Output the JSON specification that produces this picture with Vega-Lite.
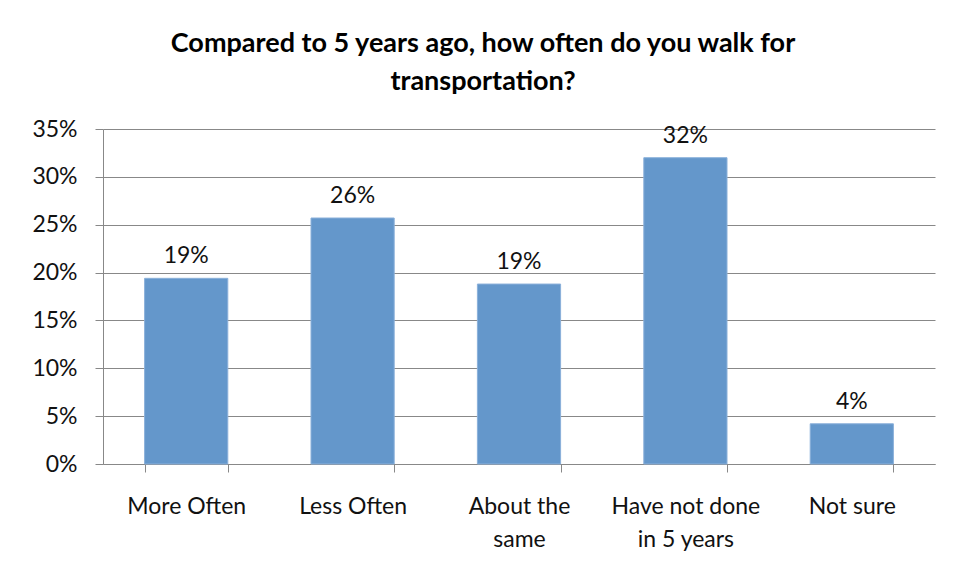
{
  "$schema": "https://vega.github.io/schema/vega-lite/v6.json",
  "autosize": "none",
  "width": 832,
  "height": 335,
  "padding": {"left": 103, "top": 129, "right": 30, "bottom": 113},
  "background": "white",
  "data": {
    "values": [
      {"category": "More Often", "share": 0.194},
      {"category": "Less Often", "share": 0.257},
      {"category": "About the same", "share": 0.188},
      {"category": "Have not done in 5 years", "share": 0.32},
      {"category": "Not sure", "share": 0.042}
    ]
  },
  "title": {
    "text": ["Compared to 5 years ago, how often do you walk for", "transportation?"],
    "font": "Lato",
    "fontSize": 27,
    "fontWeight": "bold",
    "color": "#000000",
    "lineHeight": 38,
    "anchor": "middle",
    "dx": -36,
    "offset": 22
  },
  "config": {
    "view": {"stroke": null},
    "axis": {
      "labelFont": "Lato",
      "labelFontSize": 23,
      "labelColor": "#111111",
      "domainColor": "#888888",
      "tickColor": "#888888",
      "gridColor": "#888888",
      "title": null
    }
  },
  "encoding": {
    "x": {
      "field": "category",
      "type": "nominal",
      "sort": null,
      "scale": {"paddingInner": 0.5, "paddingOuter": 0.25},
      "axis": {
        "labelAngle": 0,
        "tickBand": "extent",
        "tickSize": 8,
        "labelPadding": 23,
        "labelLineHeight": 33,
        "labelExpr": "datum.value == 'About the same' ? ['About the', 'same'] : datum.value == 'Have not done in 5 years' ? ['Have not done', 'in 5 years'] : datum.value"
      }
    },
    "y": {
      "field": "share",
      "type": "quantitative",
      "scale": {"domain": [0, 0.35], "nice": false},
      "axis": {
        "format": ".0%",
        "values": [0, 0.05, 0.1, 0.15, 0.2, 0.25, 0.3, 0.35],
        "tickSize": 8,
        "labelPadding": 18,
        "grid": true
      }
    }
  },
  "layer": [
    {"mark": {"type": "bar", "color": "#6497CB", "stroke": "#8AB0DA", "strokeWidth": 1}},
    {
      "mark": {"type": "text", "baseline": "bottom", "dy": -10, "font": "Lato", "fontSize": 23, "color": "#111111"},
      "encoding": {"text": {"field": "share", "format": ".0%"}}
    }
  ]
}
